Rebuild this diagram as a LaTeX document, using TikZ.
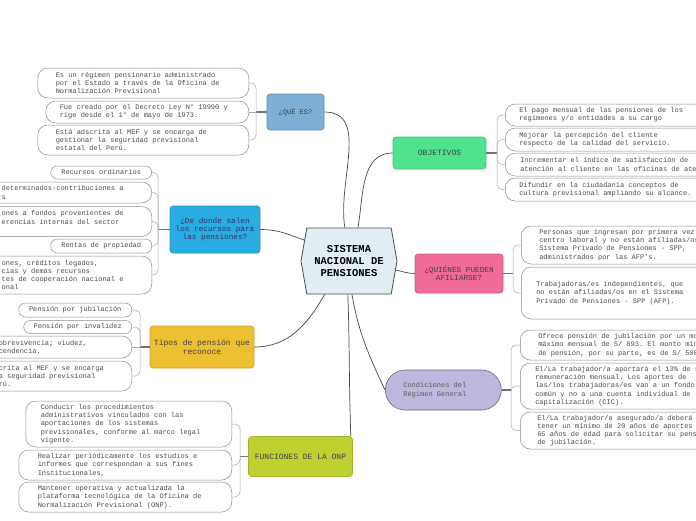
\documentclass[tikz,border=0pt]{standalone}
\usepackage{fontspec}
\setmonofont{Liberation Mono}
\usepackage{tikz}
\usetikzlibrary{shapes.symbols}

\definecolor{quecol}{HTML}{7DAFD6}
\definecolor{dondecol}{HTML}{2AACE2}
\definecolor{tiposcol}{HTML}{EDBF33}
\definecolor{funcol}{HTML}{BFD131}
\definecolor{objcol}{HTML}{4EE38C}
\definecolor{quiencol}{HTML}{F06A9A}
\definecolor{condcol}{HTML}{BDB8DD}
\definecolor{centrecol}{HTML}{E1EFF5}

\newcommand\leaffont{\ttfamily\fontsize{7}{8.2}\selectfont}
\newcommand\topicfont[1]{\ttfamily\fontsize{#1}{8.4}\selectfont}

\begin{document}
\begin{tikzpicture}
[x=1pt,y=-1pt,
 centre/.style={signal,signal to=west and east,signal pointer angle=160,draw=black!70,fill=centrecol,line width=0.8pt,inner sep=0pt,minimum width=96pt,minimum height=66pt,align=flush center,font=\ttfamily\bfseries\fontsize{10.5}{12}\selectfont},
 topic/.style={draw,rounded corners=3pt,line width=0.6pt,inner sep=2pt,align=flush center,text=black!75},
 leaf/.style={draw=black!45,fill=white,line width=0.5pt,rounded corners=10pt,inner ysep=0pt,align=flush left,font=\leaffont,text=black!70},
 pill/.style={leaf,rounded corners=6.5pt,inner xsep=0pt,align=flush center},
 link/.style={draw=black!72,line width=0.7pt},
 stem/.style={draw=black!55,line width=1.2pt},
 twig/.style={draw=black!35,line width=0.5pt,rounded corners=5pt},
 vh path/.style={to path={|- (\tikztotarget)}}]
\path[use as bounding box,clip] (0,0) rectangle (696,520);

% centre and main topics
\node[centre] (sistema) at (349,261) {SISTEMA\\NACIONAL DE\\PENSIONES};
\node[topic,fill=quecol,draw=quecol!80!black,minimum width=57pt,minimum height=36pt,font=\topicfont{7}] (que) at (295.5,112) {¿QUÉ ES?};
\node[topic,fill=dondecol,draw=dondecol!85!black,minimum width=90pt,minimum height=47pt,font=\topicfont{7.7},text=black!65!blue!60!gray] (donde) at (215,229.5) {¿De donde salen\\los recursos para\\las pensiones?};
\node[topic,fill=tiposcol,draw=tiposcol!85!black,minimum width=104pt,minimum height=42pt,font=\topicfont{8}] (tipos) at (202,347) {Tipos de pensión que\\reconoce};
\node[topic,fill=funcol,draw=funcol!85!black,minimum width=104pt,minimum height=40pt,font=\topicfont{8}] (funciones) at (300.5,456.5) {FUNCIONES DE LA ONP};
\node[topic,fill=objcol,draw=objcol!85!black,minimum width=93pt,minimum height=32pt,font=\topicfont{8}] (objetivos) at (439.5,153) {OBJETIVOS};
\node[topic,fill=quiencol,draw=quiencol!85!black,minimum width=88pt,minimum height=39pt,font=\topicfont{7.7}] (quienes) at (459,273.5) {¿QUIÉNES PUEDEN\\AFILIARSE?};
\node[topic,fill=condcol,draw=condcol!55!black,rounded corners=20pt,anchor=west,inner xsep=18pt,text width=80pt,align=flush left,minimum height=40pt,font=\topicfont{7},text=black!65] (condiciones) at (385,390) {Condiciones del\\Régimen General};

% que es
\node[leaf,anchor=east,inner xsep=18pt,text width=175pt,minimum height=30pt] (que1) at (249,83) {Es un régimen pensionario administrado\\por el Estado a través de la Oficina de\\Normalización Previsional};
\node[leaf,anchor=east,inner xsep=14pt,text width=175pt,minimum height=22pt] (que2) at (249,112) {Fue creado por el Decreto Ley N° 19990 y\\rige desde el 1° de mayo de 1973.};
\node[leaf,anchor=east,inner xsep=18pt,text width=175pt,minimum height=30pt] (que3) at (249,140) {Está adscrita al MEF y se encarga de\\gestionar la seguridad previsional\\estatal del Perú.};

% de donde salen
\node[pill,anchor=east,minimum width=101pt,minimum height=13pt] (donde1) at (152,172.5) {Recursos ordinarios};
\node[leaf,anchor=east,inner xsep=20pt,text width=130pt,minimum height=21pt] (donde2) at (152,192.5) {determinados-contribuciones a\\s};
\node[leaf,anchor=east,inner xsep=20pt,text width=130pt,minimum height=30pt] (donde3) at (152,221.5) {ones a fondos provenientes de\\erencias internas del sector\\\mbox{}};
\node[pill,anchor=east,minimum width=101pt,minimum height=14pt] (donde4) at (152,246) {Rentas de propiedad};
\node[leaf,anchor=east,inner xsep=20pt,text width=130pt,minimum height=38pt] (donde5) at (152,275) {ones, créditos legados,\\cias y demás recursos\\tes de cooperación nacional e\\onal};

% tipos
\node[pill,anchor=east,minimum width=113pt,minimum height=14pt] (tipos1) at (132,310) {Pensión por jubilación};
\node[pill,anchor=east,minimum width=108pt,minimum height=13pt] (tipos2) at (132,327) {Pensión por invalidez};
\node[leaf,anchor=east,inner xsep=23pt,text width=110pt,minimum height=22pt] (tipos3) at (132,347) {obrevivencia; viudez,\\cendencia.};
\node[leaf,anchor=east,inner xsep=23pt,text width=110pt,minimum height=30pt] (tipos4) at (132,376) {crita al MEF y se encarga\\a seguridad previsional\\rú.};

% funciones
\node[leaf,anchor=east,inner xsep=15pt,text width=176pt,minimum height=46pt] (fun1) at (232,424) {Conducir los procedimientos\\administrativos vinculados con las\\aportaciones de los sistemas\\previsionales, conforme al marco legal\\vigente.};
\node[leaf,anchor=east,inner xsep=19pt,text width=175pt,minimum height=30pt] (fun2) at (232,465) {Realizar periódicamente los estudios e\\informes que correspondan a sus fines\\Institucionales,};
\node[leaf,anchor=east,inner xsep=19pt,text width=175pt,minimum height=30pt] (fun3) at (232,497) {Mantener operativa y actualizada la\\plataforma tecnológica de la Oficina de\\Normalización Previsional (ONP).};

% objetivos
\node[leaf,anchor=west,inner xsep=14pt,text width=220pt,minimum height=22pt] (obj1) at (505,115) {El pago mensual de las pensiones de los\\regímenes y/o entidades a su cargo};
\node[leaf,anchor=west,inner xsep=14pt,text width=220pt,minimum height=23pt] (obj2) at (505,139.5) {Mejorar la percepción del cliente\\respecto de la calidad del servicio.};
\node[leaf,anchor=west,inner xsep=15pt,text width=220pt,minimum height=23pt] (obj3) at (505,164.5) {Incrementar el índice de satisfacción de\\atención al cliente en las oficinas de atención};
\node[leaf,anchor=west,inner xsep=14pt,text width=220pt,minimum height=23pt] (obj4) at (505,189.5) {Difundir en la ciudadanía conceptos de\\cultura previsional ampliando su alcance.};

% quienes pueden afiliarse
\node[leaf,anchor=west,inner xsep=18pt,text width=220pt,minimum height=38pt] (quien1) at (521,245) {Personas que ingresan por primera vez a un\\centro laboral y no están afiliadas/os al\\Sistema Privado de Pensiones - SPP,\\administrados por las AFP's.};
\node[leaf,anchor=west,inner xsep=15pt,text width=220pt,minimum height=52pt] (quien2) at (521,293) {Trabajadoras/es independientes, que\\no están afiliadas/os en el Sistema\\Privado de Pensiones - SPP (AFP).};

% condiciones
\node[leaf,anchor=west,inner xsep=18pt,text width=220pt,minimum height=30pt] (cond1) at (520,345) {Ofrece pensión de jubilación por un monto\\máximo mensual de S/ 893. El monto mínimo\\de pensión, por su parte, es de S/ 500.};
\node[leaf,anchor=west,inner xsep=15pt,text width=220pt,minimum height=46pt] (cond2) at (520,386) {El/La trabajador/a aportará el 13\% de su\\remuneración mensual. Los aportes de\\las/los trabajadoras/es van a un fondo\\común y no a una cuenta individual de\\capitalización (CIC).};
\node[leaf,anchor=west,inner xsep=17pt,text width=220pt,minimum height=37pt] (cond3) at (520,430.5) {El/La trabajador/a asegurado/a deberá\\tener un mínimo de 20 años de aportes y\\65 años de edad para solicitar su pensión\\de jubilación.};

% hubs
\coordinate (quehub)   at (256,112);
\coordinate (dondehub) at (158,229.5);
\coordinate (tiposhub) at (140,347);
\coordinate (funhub)   at (240,456.5);
\coordinate (objhub)   at (497,153);
\coordinate (quienhub) at (513,273.5);
\coordinate (condhub)  at (511,390);

% links from the centre
\draw[link] (que.east) to[out=0,in=100] (sistema.97);
\draw[link] (sistema.75) to[out=80,in=180] (objetivos.west);
\draw[link] (donde.east) to[out=0,in=160] (sistema.155);
\draw[link] (tipos.east) to[out=0,in=240] (sistema.234);
\draw[link] (sistema.268) to[out=-88,in=92] ([xshift=-2pt]funciones.north east);
\draw[link] (sistema.275) to[out=-80,in=115] (condiciones.west);
\draw[link] (sistema.-11) to[out=-10,in=180] (quienes.west);

% stems
\draw[stem] (que.west) -- (quehub);
\draw[stem] (donde.west) -- (dondehub);
\draw[stem] (tipos.west) -- (tiposhub);
\draw[stem] (funciones.west) -- (funhub);
\draw[stem] (objetivos.east) -- (objhub);
\draw[stem] (quienes.east) -- (quienhub);
\draw[stem] (condiciones.east) -- (condhub);

% twigs
\path[twig] (quehub) edge[vh path] (que1.east)
                     edge (que2.east)
                     edge[vh path] (que3.east);
\path[twig] (dondehub) edge[vh path] (donde1.east)
                       edge[vh path] (donde2.east)
                       edge[vh path] (donde3.east)
                       edge[vh path] (donde4.east)
                       edge[vh path] (donde5.east);
\path[twig] (tiposhub) edge[vh path] (tipos1.east)
                       edge[vh path] (tipos2.east)
                       edge (tipos3.east)
                       edge[vh path] (tipos4.east);
\path[twig] (funhub) edge[vh path] (fun1.east)
                     edge[vh path] (fun2.east)
                     edge[vh path] (fun3.east);
\path[twig] (objhub) edge[vh path] (obj1.west)
                     edge[vh path] (obj2.west)
                     edge[vh path] (obj3.west)
                     edge[vh path] (obj4.west);
\path[twig] (quienhub) edge[vh path] (quien1.west)
                       edge[vh path] (quien2.west);
\path[twig] (condhub) edge[vh path] (cond1.west)
                      edge[vh path] (cond2.west)
                      edge[vh path] (cond3.west);
\end{tikzpicture}
\end{document}
